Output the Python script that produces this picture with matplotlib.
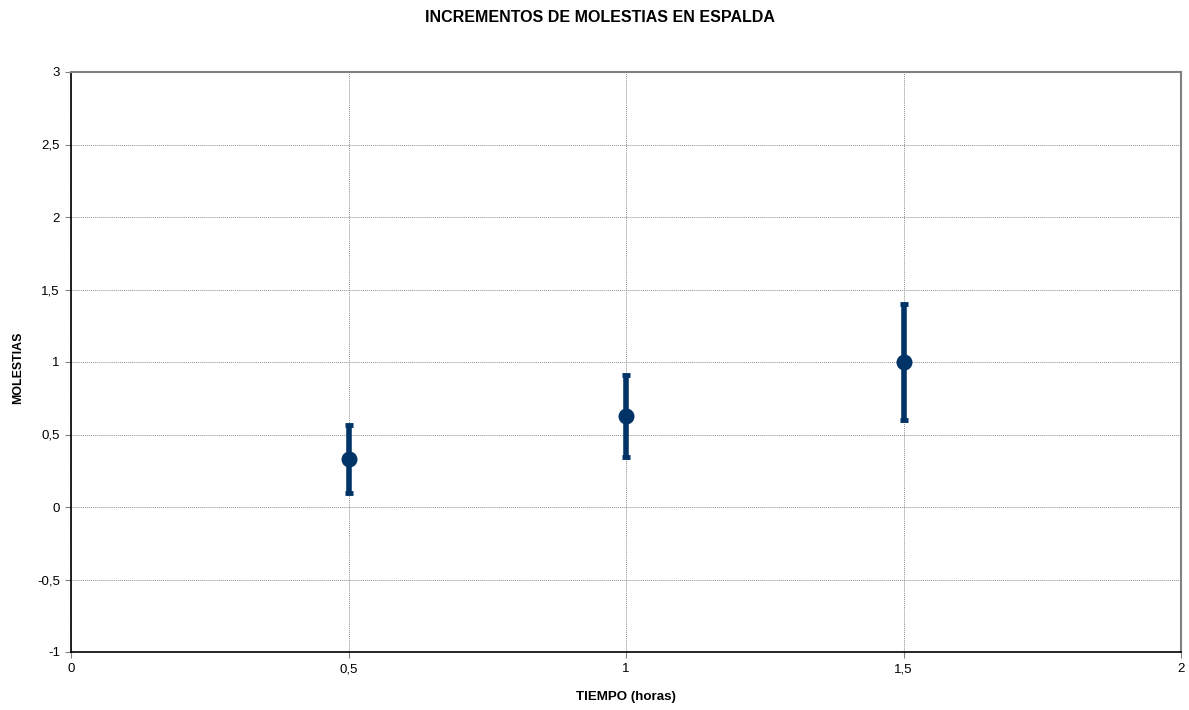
import matplotlib
matplotlib.use("Agg")
import matplotlib.pyplot as plt
from matplotlib.ticker import FuncFormatter

plt.rcParams['font.family'] = ['Liberation Sans', 'DejaVu Sans']

tiempo = [0.5, 1.0, 1.5]
molestias = [0.333, 0.625, 1.0]
error = [0.233, 0.283, 0.403]

title = "INCREMENTOS DE MOLESTIAS EN ESPALDA"
xlabel = "TIEMPO (horas)"
ylabel = "MOLESTIAS"
color = "#003366"

fig = plt.figure(figsize=(11.89, 7.10), dpi=100)
ax = fig.add_axes([71/1189, 58/710, 1110/1189, 580/710])

ax.errorbar(tiempo, molestias, yerr=error, fmt='o', color=color, ecolor=color,
            markersize=10.5, elinewidth=4, capsize=2.6, capthick=3.5, zorder=3)

ax.set_xlim(0, 2)
ax.set_ylim(-1, 3)
ax.set_xticks([0, 0.5, 1, 1.5, 2])
ax.set_yticks([-1, -0.5, 0, 0.5, 1, 1.5, 2, 2.5, 3])
fmt = FuncFormatter(lambda v, p: ("%g" % v).replace('.', ','))
ax.xaxis.set_major_formatter(fmt)
ax.yaxis.set_major_formatter(fmt)

ax.grid(True, color='#909090', linestyle=(0, (1, 1)), linewidth=0.7)
ax.set_axisbelow(True)
for s in ['top', 'right']:
    ax.spines[s].set_color('#808080')
    ax.spines[s].set_linewidth(1.5)
for s in ['left', 'bottom']:
    ax.spines[s].set_color('black')
    ax.spines[s].set_linewidth(1.2)
ax.tick_params(axis='both', direction='out', length=4, width=0.8, color='#808080',
               labelsize=9.5, pad=4)

fig.text(600/1189, 1 - 17/710, title, ha='center', va='center', fontsize=11.5, fontweight='bold')
fig.text(626/1189, 1 - 697/710, xlabel, ha='center', va='center', fontsize=9.6, fontweight='bold')
fig.text(18/1189, 1 - 368/710, ylabel, ha='center', va='center', rotation=90, fontsize=8.9, fontweight='bold')

fig.savefig("out.png", dpi=100)
